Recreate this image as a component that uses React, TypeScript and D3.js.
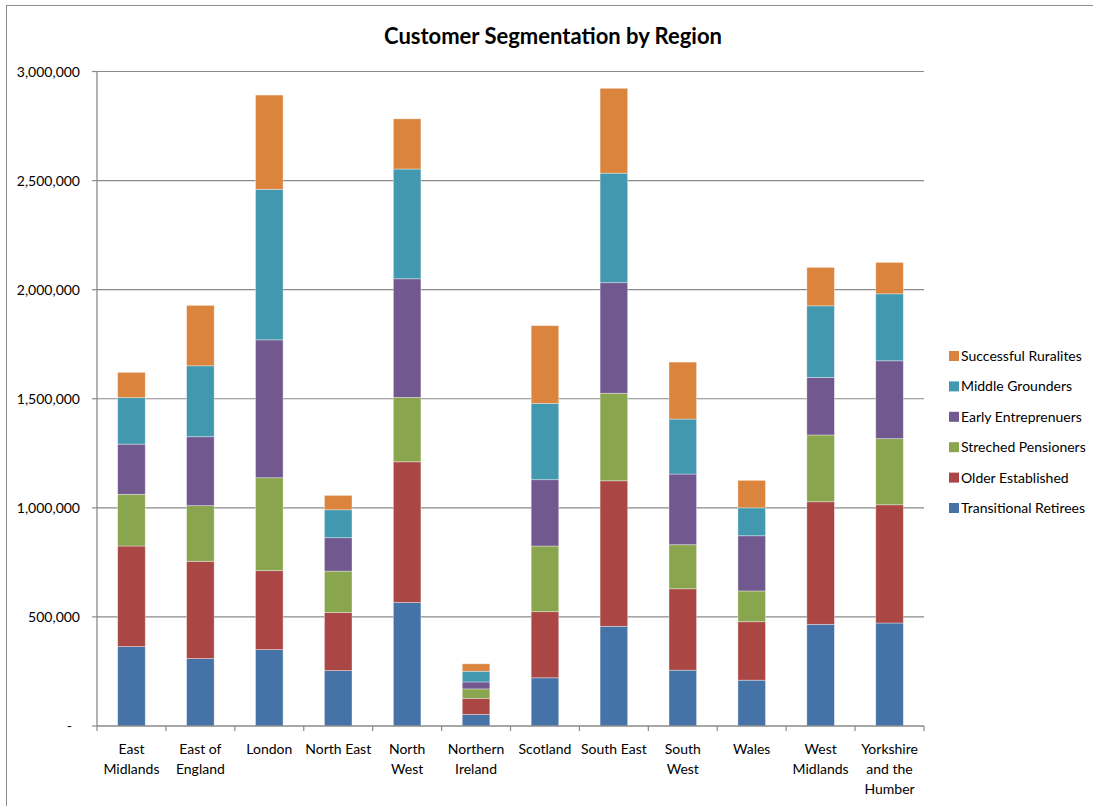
import React from "react";
import * as d3 from "d3";

const regions = [
  "East Midlands",
  "East of England",
  "London",
  "North East",
  "North West",
  "Northern Ireland",
  "Scotland",
  "South East",
  "South West",
  "Wales",
  "West Midlands",
  "Yorkshire and the Humber",
];

const regionLabelLines = [
  ["East", "Midlands"],
  ["East of", "England"],
  ["London"],
  ["North East"],
  ["North", "West"],
  ["Northern", "Ireland"],
  ["Scotland"],
  ["South East"],
  ["South", "West"],
  ["Wales"],
  ["West", "Midlands"],
  ["Yorkshire", "and the", "Humber"],
];

const seriesNames = [
  "Transitional Retirees",
  "Older Established",
  "Streched Pensioners",
  "Early Entreprenuers",
  "Middle Grounders",
  "Successful Ruralites",
];

const seriesColors = ["#4572A7", "#AA4643", "#89A54E", "#71588F", "#4198AF", "#DB843D"];

const transitionalRetirees = [364000, 309000, 350000, 254000, 566000, 53000, 221000, 457000, 256000, 210000, 466000, 472000];
const olderEstablished = [461000, 446000, 362000, 266000, 645000, 74000, 303000, 667000, 373000, 268000, 562000, 542000];
const strechedPensioners = [237000, 255000, 426000, 190000, 295000, 43000, 301000, 401000, 202000, 141000, 306000, 303000];
const earlyEntreprenuers = [230000, 316000, 632000, 153000, 544000, 32000, 304000, 507000, 324000, 253000, 264000, 357000];
const middleGrounders = [213000, 325000, 690000, 128000, 503000, 49000, 350000, 502000, 252000, 128000, 328000, 307000];
const successfulRuralites = [116000, 277000, 432000, 66000, 230000, 34000, 356000, 389000, 261000, 126000, 176000, 144000];

const yTicks = [0, 500000, 1000000, 1500000, 2000000, 2500000, 3000000];

const seriesValues = [
  transitionalRetirees,
  olderEstablished,
  strechedPensioners,
  earlyEntreprenuers,
  middleGrounders,
  successfulRuralites,
];

const W = 1093;
const H = 806;
const plot = { left: 97, right: 924, top: 71.5, bottom: 726 };
const FONT = "Lato, 'Open Sans', sans-serif";

export default function App() {
  const x = d3.scaleBand<string>().domain(regions).range([plot.left, plot.right]).paddingInner(0.6).paddingOuter(0.3);
  const xOuter = d3.scaleBand<string>().domain(regions).range([plot.left, plot.right]).padding(0);
  const y = d3.scaleLinear().domain([0, 3000000]).range([plot.bottom, plot.top]);

  const table = regions.map((r, i) => {
    const row: Record<string, number | string> = { region: r };
    seriesNames.forEach((s, k) => (row[s] = seriesValues[k][i]));
    return row;
  });
  const stacked = d3.stack<Record<string, number | string>>().keys(seriesNames)(table as any);

  const fmt = d3.format(",");
  const gridColor = "#8a8a8a";

  const legendX = 949;
  const legendY0 = 356;
  const legendStep = 30.4;

  return (
    <svg
      width={W}
      height={H}
      style={{ position: "absolute", left: 0, top: 0, background: "#fff" }}
      fontFamily={FONT}
    >
      <rect x={0} y={0} width={W} height={H} fill="#fff" />
      <rect x={6.5} y={5.5} width={W + 20} height={H + 20} fill="none" stroke="#8c8c8c" strokeWidth={1} />

      <text x={553} y={44} textAnchor="middle" fontSize={22} fontWeight="bold" fill="#000">
        Customer Segmentation by Region
      </text>

      {/* gridlines */}
      {yTicks.slice(1).map((t) => (
        <line key={t} x1={plot.left} x2={plot.right} y1={y(t)} y2={y(t)} stroke={gridColor} strokeWidth={1.2} />
      ))}

      {/* bars */}
      {stacked.map((layer, k) => (
        <g key={seriesNames[k]} fill={seriesColors[k]}>
          {layer.map((d, i) => (
            <rect
              key={regions[i]}
              x={x(regions[i])!}
              y={y(d[1])}
              width={x.bandwidth()}
              height={y(d[0]) - y(d[1])}
              stroke="#ffffff"
              strokeOpacity={0.45}
              strokeWidth={0.8}
            />
          ))}
        </g>
      ))}

      {/* y axis */}
      <line x1={plot.left} x2={plot.left} y1={plot.top} y2={plot.bottom} stroke={gridColor} strokeWidth={1.3} />
      {yTicks.map((t) => (
        <g key={t}>
          <line x1={plot.left - 5} x2={plot.left} y1={y(t)} y2={y(t)} stroke={gridColor} strokeWidth={1.2} />
          <text x={t === 0 ? 72 : 80} y={y(t) + 5} textAnchor="end" fontSize={14} fill="#000">
            {t === 0 ? "-" : fmt(t)}
          </text>
        </g>
      ))}

      {/* x axis */}
      <line x1={plot.left} x2={plot.right} y1={plot.bottom} y2={plot.bottom} stroke={gridColor} strokeWidth={1.6} />
      {regions.map((r) => (
        <line
          key={"t" + r}
          x1={xOuter(r)!}
          x2={xOuter(r)!}
          y1={plot.bottom}
          y2={plot.bottom + 5}
          stroke={gridColor}
          strokeWidth={1.2}
        />
      ))}
      <line x1={plot.right} x2={plot.right} y1={plot.bottom} y2={plot.bottom + 5} stroke={gridColor} strokeWidth={1.2} />
      {regions.map((r, i) => (
        <text key={"l" + r} textAnchor="middle" fontSize={14} fill="#000">
          {regionLabelLines[i].map((line, j) => (
            <tspan key={j} x={xOuter(r)! + xOuter.bandwidth() / 2} y={754 + j * 20}>
              {line}
            </tspan>
          ))}
        </text>
      ))}

      {/* legend */}
      {seriesNames
        .map((s, k) => ({ s, k }))
        .reverse()
        .map(({ s, k }, idx) => (
          <g key={s}>
            <rect x={legendX} y={legendY0 + idx * legendStep - 5} width={10} height={10} fill={seriesColors[k]} />
            <text x={legendX + 12} y={legendY0 + idx * legendStep + 5} fontSize={14} fill="#000">
              {s}
            </text>
          </g>
        ))}
    </svg>
  );
}
